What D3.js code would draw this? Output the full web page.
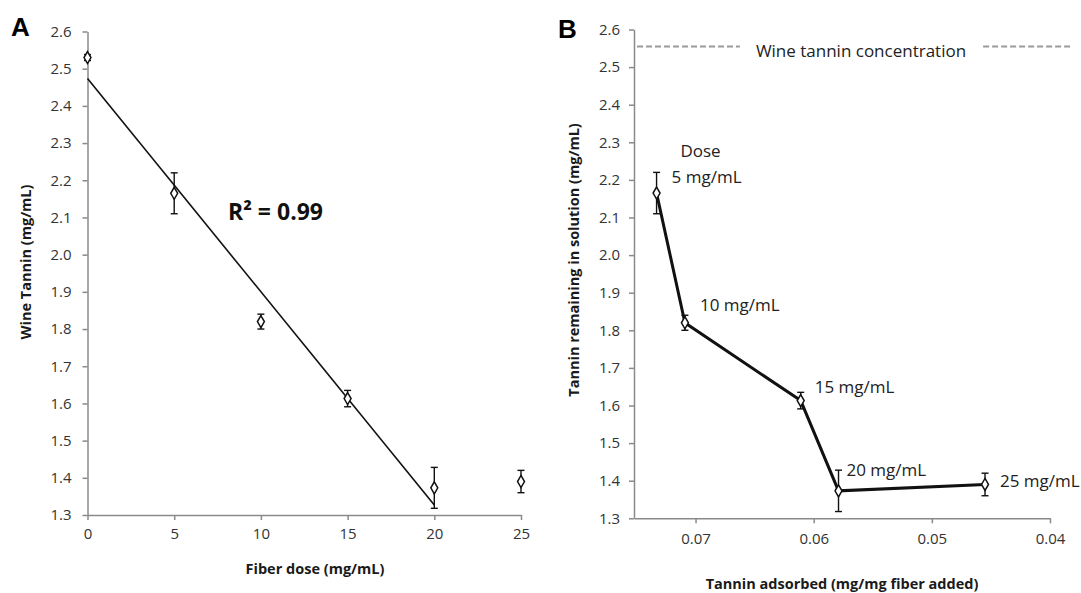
<!DOCTYPE html>
<html>
<head>
<meta charset="utf-8">
<script src="https://cdn.jsdelivr.net/npm/d3@7"></script>
<style>
  body { margin: 0; background: #fff; }
  svg { display: block; font-family: "Open Sans", "DejaVu Sans", sans-serif; }
  .axis path, .axis line { stroke: #8a8a8a; stroke-width: 1.5px; }
  .axis text { fill: #333; font-size: 15px; font-family: "Open Sans", sans-serif; }
  .title { font-weight: bold; font-size: 14.5px; fill: #1a1a1a; }
</style>
</head>
<body>
<svg id="chart" width="1081" height="593"></svg>
<script>
// ---- data ----
const doses = [0, 5, 10, 15, 20, 25];                       // fiber dose (mg/mL)
const tannin = [2.53, 2.165, 1.82, 1.613, 1.373, 1.39];     // wine tannin remaining (mg/mL)
const tanninErr = [0.008, 0.055, 0.02, 0.022, 0.055, 0.03];
const fitDoses = [0, 5, 10, 15, 20];                        // points used for the trendline
const adsorbed = [0.0733, 0.0709, 0.0611, 0.0579, 0.0455];  // tannin adsorbed (mg/mg fiber), doses 5..25
const doseLabels = ["5 mg/mL", "10 mg/mL", "15 mg/mL", "20 mg/mL", "25 mg/mL"];
const wineTannin = 2.555;
const yTicks = [1.3, 1.4, 1.5, 1.6, 1.7, 1.8, 1.9, 2.0, 2.1, 2.2, 2.3, 2.4, 2.5, 2.6];
const xTicksA = [0, 5, 10, 15, 20, 25];
const xTicksB = [0.07, 0.06, 0.05, 0.04];

const svg = d3.select("#chart");

// diamond marker + error bar helper
function drawPoints(g, pts, x, y) {
  const sel = g.selectAll(".pt").data(pts).enter().append("g").attr("class", "pt");
  sel.append("line")
    .attr("x1", d => x(d.x)).attr("x2", d => x(d.x))
    .attr("y1", d => y(d.y + d.e)).attr("y2", d => y(d.y - d.e))
    .attr("stroke", "#111").attr("stroke-width", 1.4);
  [1, -1].forEach(s => {
    sel.append("line")
      .attr("x1", d => x(d.x) - 3.5).attr("x2", d => x(d.x) + 3.5)
      .attr("y1", d => y(d.y + s * d.e)).attr("y2", d => y(d.y + s * d.e))
      .attr("stroke", "#111").attr("stroke-width", 1.4);
  });
  sel.append("path")
    .attr("d", d3.symbol().type(d3.symbolDiamond).size(42))
    .attr("transform", d => "translate(" + x(d.x) + "," + y(d.y) + ")")
    .attr("fill", "#fff").attr("stroke", "#111").attr("stroke-width", 1.5);
}

// ================= Panel A =================
const xA = d3.scaleLinear().domain([0, 25]).range([87.5, 521]);
const yA = d3.scaleLinear().domain([1.3, 2.6]).range([515, 31.5]);
const gA = svg.append("g");

gA.append("g").attr("class", "axis")
  .attr("transform", "translate(0," + yA(1.3) + ")")
  .call(d3.axisBottom(xA).tickValues(xTicksA).tickFormat(d3.format("d")).tickSize(5).tickSizeOuter(0).tickPadding(8));
gA.append("g").attr("class", "axis")
  .attr("transform", "translate(" + xA(0) + ",0)")
  .call(d3.axisLeft(yA).tickValues(yTicks).tickFormat(d3.format(".1f")).tickSize(5).tickSizeOuter(0).tickPadding(11));

// least squares trendline over 0-20 mg/mL
const fitY = fitDoses.map(d => tannin[doses.indexOf(d)]);
const mx = d3.mean(fitDoses), my = d3.mean(fitY);
const slope = d3.sum(fitDoses, (d, i) => (d - mx) * (fitY[i] - my)) / d3.sum(fitDoses, d => (d - mx) * (d - mx));
const icpt = my - slope * mx;
const x0 = d3.min(fitDoses), x1 = d3.max(fitDoses);
gA.append("line")
  .attr("x1", xA(x0)).attr("y1", yA(icpt + slope * x0))
  .attr("x2", xA(x1)).attr("y2", yA(icpt + slope * x1))
  .attr("stroke", "#111").attr("stroke-width", 1.6);

drawPoints(gA, doses.map((d, i) => ({ x: d, y: tannin[i], e: tanninErr[i] })), xA, yA);

gA.append("text").attr("x", 228).attr("y", 220)
  .style("font-weight", "bold").style("font-size", "23px").attr("fill", "#111")
  .text("R² = 0.99");

gA.append("text").attr("class", "title").attr("x", 315).attr("y", 574)
  .attr("text-anchor", "middle").text("Fiber dose (mg/mL)");
gA.append("text").attr("class", "title")
  .attr("transform", "translate(31,262) rotate(-90)")
  .attr("text-anchor", "middle").text("Wine Tannin  (mg/mL)");

gA.append("text").attr("x", 11).attr("y", 36)
  .style("font-family", "'Liberation Sans', Arial, sans-serif")
  .style("font-weight", "bold").style("font-size", "26px").text("A");

// ================= Panel B =================
const xB = d3.scaleLinear().domain([0.07521, 0.04]).range([634, 1050]);
const yB = d3.scaleLinear().domain([1.3, 2.6]).range([518.3, 29.5]);
const gB = svg.append("g");

gB.append("g").attr("class", "axis")
  .attr("transform", "translate(0," + yB(1.3) + ")")
  .call(d3.axisBottom(xB).tickValues(xTicksB).tickFormat(d3.format(".2f")).tickSize(5).tickSizeOuter(0).tickPadding(10));
gB.append("g").attr("class", "axis")
  .attr("transform", "translate(" + xB.range()[0] + ",0)")
  .call(d3.axisLeft(yB).tickValues(yTicks).tickFormat(d3.format(".1f")).tickSize(5).tickSizeOuter(0).tickPadding(9));

// wine tannin reference line, broken around its label
const refLabel = gB.append("text").attr("x", 861).attr("y", yB(wineTannin) + 11)
  .attr("text-anchor", "middle").style("font-size", "17px").attr("fill", "#222")
  .text("Wine tannin concentration");
const bb = refLabel.node().getBBox();
[[xB.range()[0] + 3, bb.x - 16], [bb.x + bb.width + 17, 1073]].forEach(seg => {
  gB.append("line")
    .attr("x1", seg[0]).attr("x2", seg[1])
    .attr("y1", yB(wineTannin)).attr("y2", yB(wineTannin))
    .attr("stroke", "#9a9a9a").attr("stroke-width", 2).attr("stroke-dasharray", "6,3");
});

const ptsB = adsorbed.map((a, i) => ({ x: a, y: tannin[i + 1], e: tanninErr[i + 1], label: doseLabels[i] }));

gB.append("path").datum(ptsB)
  .attr("d", d3.line().x(d => xB(d.x)).y(d => yB(d.y)))
  .attr("fill", "none").attr("stroke", "#111").attr("stroke-width", 3);

drawPoints(gB, ptsB, xB, yB);

// label offsets (px) from each point
const labelOff = [[15, -16], [15, -18], [14, -14], [8, -21], [15, -3]];
gB.selectAll(".dlab").data(ptsB).enter().append("text")
  .attr("x", (d, i) => xB(d.x) + labelOff[i][0])
  .attr("y", (d, i) => yB(d.y) + labelOff[i][1])
  .attr("dy", "0.35em").style("font-size", "17px").attr("fill", "#222")
  .text(d => d.label);
gB.append("text")
  .attr("x", xB(ptsB[0].x) + 44).attr("y", yB(ptsB[0].y) - 42)
  .attr("dy", "0.35em").attr("text-anchor", "middle")
  .style("font-size", "17px").attr("fill", "#222").text("Dose");

gB.append("text").attr("class", "title").attr("x", 842).attr("y", 589)
  .attr("text-anchor", "middle").text("Tannin adsorbed  (mg/mg fiber added)");
gB.append("text").attr("class", "title")
  .attr("transform", "translate(579,260) rotate(-90)")
  .attr("text-anchor", "middle").text("Tannin remaining in solution  (mg/mL)");

gB.append("text").attr("x", 558).attr("y", 38)
  .style("font-family", "'Liberation Sans', Arial, sans-serif")
  .style("font-weight", "bold").style("font-size", "26px").text("B");
</script>
</body>
</html>
